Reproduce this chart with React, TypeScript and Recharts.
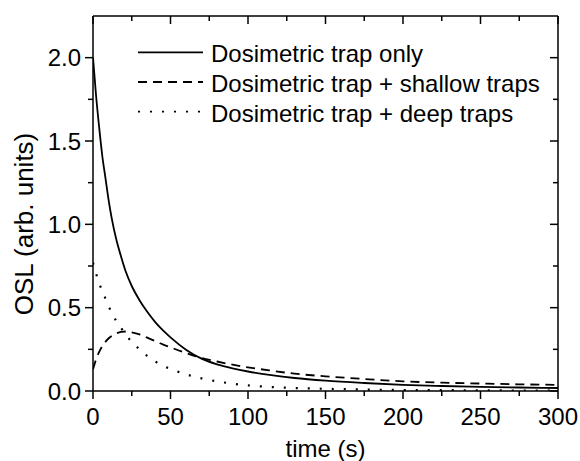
import { Legend, Line, LineChart, XAxis, YAxis } from "recharts";

const time = [0, 2, 4, 6, 8, 10, 12, 15, 18, 21, 25, 30, 35, 40, 45, 50, 60, 70, 80, 90, 100, 115, 130, 150, 175, 200, 225, 250, 275, 300];
const trapOnly = [2.0, 1.77, 1.58, 1.41, 1.28, 1.15, 1.04, 0.91, 0.81, 0.72, 0.63, 0.545, 0.475, 0.415, 0.365, 0.322, 0.248, 0.194, 0.16, 0.136, 0.117, 0.095, 0.078, 0.062, 0.048, 0.037, 0.03, 0.025, 0.021, 0.018];
const shallowTraps = [0.13, 0.19, 0.235, 0.27, 0.295, 0.315, 0.33, 0.345, 0.355, 0.357, 0.352, 0.34, 0.32, 0.3, 0.28, 0.262, 0.228, 0.198, 0.177, 0.158, 0.142, 0.122, 0.104, 0.088, 0.072, 0.058, 0.05, 0.045, 0.04, 0.037];
const deepTraps = [0.77, 0.705, 0.645, 0.6, 0.555, 0.51, 0.47, 0.42, 0.38, 0.34, 0.295, 0.25, 0.21, 0.178, 0.152, 0.133, 0.1, 0.076, 0.058, 0.044, 0.034, 0.024, 0.018, 0.013, 0.009, 0.006, 0.005, 0.004, 0.003, 0.003];

const seriesNames = ["Dosimetric trap only", "Dosimetric trap + shallow traps", "Dosimetric trap + deep traps"];
const dashes = ["", "9 6", "2 10"];

const xTicks = [0, 25, 50, 75, 100, 125, 150, 175, 200, 225, 250, 275, 300];
const yTicks = [0, 0.25, 0.5, 0.75, 1, 1.25, 1.5, 1.75, 2];
const xMax = 300;
const yMax = 2.25;

const data = time.map((t, i) => ({
  t,
  trapOnly: trapOnly[i],
  shallowTraps: shallowTraps[i],
  deepTraps: deepTraps[i],
}));

// plot box, matches the margins / axis sizes given to LineChart below
const plot = { left: 93, right: 558, top: 16, bottom: 391 };
const px = (v: number) => plot.left + (v / xMax) * (plot.right - plot.left);
const py = (v: number) => plot.bottom - (v / yMax) * (plot.bottom - plot.top);

const font = "'Liberation Sans', Arial, sans-serif";
const isMajorX = (v: number) => v % 50 === 0;
const isMajorY = (v: number) => (v * 2) % 1 === 0;

const BottomTick = (props: any) => {
  const { x, y, payload } = props;
  const major = isMajorX(payload.value);
  return (
    <g>
      <line x1={x} x2={x} y1={y} y2={y + (major ? 8 : 5)} stroke="#000" strokeWidth={1.5} />
      {major && (
        <text x={x} y={y + 34} textAnchor="middle" fontSize={24} fontFamily={font} fill="#000">
          {payload.value}
        </text>
      )}
    </g>
  );
};

const LeftTick = (props: any) => {
  const { x, y, payload } = props;
  const major = isMajorY(payload.value);
  return (
    <g>
      <line x1={x - (major ? 8 : 5)} x2={x} y1={y} y2={y} stroke="#000" strokeWidth={1.5} />
      {major && (
        <text x={x - 12} y={y + 8.6} textAnchor="end" fontSize={24} fontFamily={font} fill="#000">
          {payload.value.toFixed(1)}
        </text>
      )}
    </g>
  );
};

const LegendBox = () => (
  <svg width={440} height={100}>
    {seriesNames.map((name, i) => (
      <g key={name}>
        <line x1={8} x2={73} y1={17.3 + i * 29.7} y2={17.3 + i * 29.7} stroke="#000" strokeWidth={1.8} strokeDasharray={dashes[i] || undefined} />
        <text x={81} y={26.7 + i * 30} fontSize={24} fontFamily={font} fill="#000">
          {name}
        </text>
      </g>
    ))}
  </svg>
);

export default function App() {
  return (
    <div style={{ position: "absolute", left: 0, top: 0, width: 580, height: 461, background: "#fff" }}>
      <LineChart width={580} height={461} data={data} margin={{ top: 15, right: 21, left: 0, bottom: 0 }}>
        <XAxis xAxisId="b" dataKey="t" type="number" domain={[0, xMax]} ticks={xTicks} interval={0} height={70} tickSize={0} tickMargin={0} tickLine={false} tick={BottomTick} axisLine={{ stroke: "#000", strokeWidth: 1.5 }} allowDataOverflow />
        <XAxis xAxisId="t" orientation="top" dataKey="t" type="number" domain={[0, xMax]} height={1} tick={false} tickLine={false} axisLine={{ stroke: "#000", strokeWidth: 1.5 }} allowDataOverflow />
        <YAxis yAxisId="l" type="number" domain={[0, yMax]} ticks={yTicks} interval={0} width={93} tickSize={0} tickMargin={0} tickLine={false} tick={LeftTick} axisLine={{ stroke: "#000", strokeWidth: 1.5 }} allowDataOverflow />
        <YAxis yAxisId="r" orientation="right" type="number" domain={[0, yMax]} width={1} tick={false} tickLine={false} axisLine={{ stroke: "#000", strokeWidth: 1.5 }} allowDataOverflow />
        <Legend layout="vertical" align="center" verticalAlign="middle" content={LegendBox} wrapperStyle={{ left: 130, top: 35, width: 440, height: 100 }} />
        <Line xAxisId="b" yAxisId="l" type="monotone" dataKey="trapOnly" name={seriesNames[0]} stroke="#000" strokeWidth={1.8} dot={false} isAnimationActive={false} />
        <Line xAxisId="b" yAxisId="l" type="monotone" dataKey="shallowTraps" name={seriesNames[1]} stroke="#000" strokeWidth={1.8} strokeDasharray={dashes[1]} dot={false} isAnimationActive={false} />
        <Line xAxisId="b" yAxisId="l" type="monotone" dataKey="deepTraps" name={seriesNames[2]} stroke="#000" strokeWidth={2.2} strokeDasharray={dashes[2]} dot={false} isAnimationActive={false} />
      </LineChart>
      <svg width={580} height={461} style={{ position: "absolute", left: 0, top: 0, pointerEvents: "none" }}>
        {/* inward ticks on the top and right frame */}
        {xTicks.map((v) => (
          <line key={`tx${v}`} x1={px(v)} x2={px(v)} y1={plot.top} y2={plot.top + (isMajorX(v) ? 8 : 5)} stroke="#000" strokeWidth={1.5} />
        ))}
        {yTicks.map((v) => (
          <line key={`ry${v}`} x1={plot.right - (isMajorY(v) ? 8 : 5)} x2={plot.right} y1={py(v)} y2={py(v)} stroke="#000" strokeWidth={1.5} />
        ))}
        <text x={325.5} y={456.5} textAnchor="middle" fontSize={24} fontFamily={font} fill="#000">
          time (s)
        </text>
        <text transform="translate(33,224) rotate(-90)" textAnchor="middle" fontSize={26} fontFamily={font} fill="#000">
          OSL (arb. units)
        </text>
      </svg>
    </div>
  );
}
